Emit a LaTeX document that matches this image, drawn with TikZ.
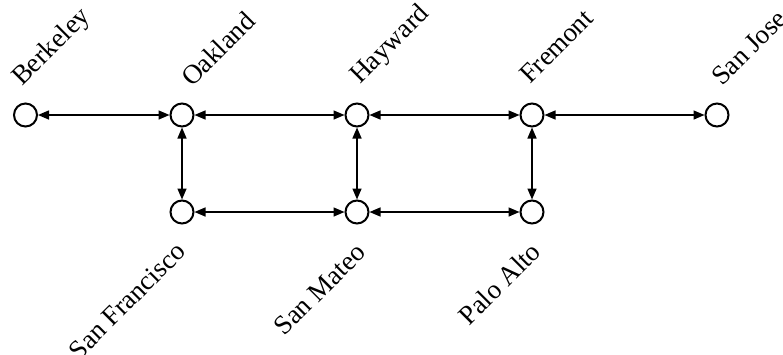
\documentclass[tikz,border=0pt]{standalone}
\usepackage{fontspec}
\setmainfont{Liberation Serif}
\usetikzlibrary{positioning,arrows.meta}

\begin{document}
\begin{tikzpicture}[
    x=1pt, y=1pt,
    node distance=97pt and 175pt, on grid, % Abstand zwischen den Stationen
    station/.style={draw, circle, line width=2pt, minimum size=23pt, inner sep=0pt}, % Stil der Stationen
    toplabel/.style={rotate=45, anchor=base west, inner sep=0pt, font=\fontsize{27pt}{32pt}\selectfont}, % Namen oben
    bottomlabel/.style={rotate=45, anchor=east, inner sep=0pt, font=\fontsize{27pt}{32pt}\selectfont}, % Namen unten
    link/.style={line width=1.5pt, {Triangle[length=11pt,width=9pt]}-{Triangle[length=11pt,width=9pt]}} % Stil der Verbindungen
]
\useasboundingbox (0,115) rectangle (783,-239);

% Stationen oben
\node[station] (berkeley) at (25.5,0) {};
\node[station] (oakland) [right=156.5pt of berkeley] {};
\node[station] (hayward) [right=of oakland] {};
\node[station] (fremont) [right=of hayward] {};
\node[station] (sanjose) [right=185pt of fremont] {};

% Stationen unten
\node[station] (sanfrancisco) [below=of oakland] {};
\node[station] (sanmateo) [below=of hayward] {};
\node[station] (paloalto) [below=of fremont] {};

% Namen
\node[toplabel] (berkeley-name) at ([shift={(-3.5,28)}]berkeley.center) {Berkeley};
\node[toplabel] (oakland-name) at ([shift={(10,27)}]oakland.center) {Oakland};
\node[toplabel] (hayward-name) at ([shift={(3,30)}]hayward.center) {Hayward};
\node[toplabel] (fremont-name) at ([shift={(-2,30)}]fremont.center) {Fremont};
\node[toplabel] (sanjose-name) at ([shift={(5,28)}]sanjose.center) {San Jose};
\node[bottomlabel] (sanfrancisco-name) at ([shift={(-1,-35)}]sanfrancisco.center) {San Francisco};
\node[bottomlabel] (sanmateo-name) at ([shift={(4,-36)}]sanmateo.center) {San Mateo};
\node[bottomlabel] (paloalto-name) at ([shift={(4,-35)}]paloalto.center) {Palo Alto};

% Verbindungen
\draw[link] (berkeley) -- (oakland);
\draw[link] (oakland) -- (hayward);
\draw[link] (hayward) -- (fremont);
\draw[link] (fremont) -- (sanjose);
\draw[link] (oakland) -- (sanfrancisco);
\draw[link] (hayward) -- (sanmateo);
\draw[link] (fremont) -- (paloalto);
\draw[link] (sanfrancisco) -- (sanmateo);
\draw[link] (sanmateo) -- (paloalto);

\end{tikzpicture}
\end{document}
